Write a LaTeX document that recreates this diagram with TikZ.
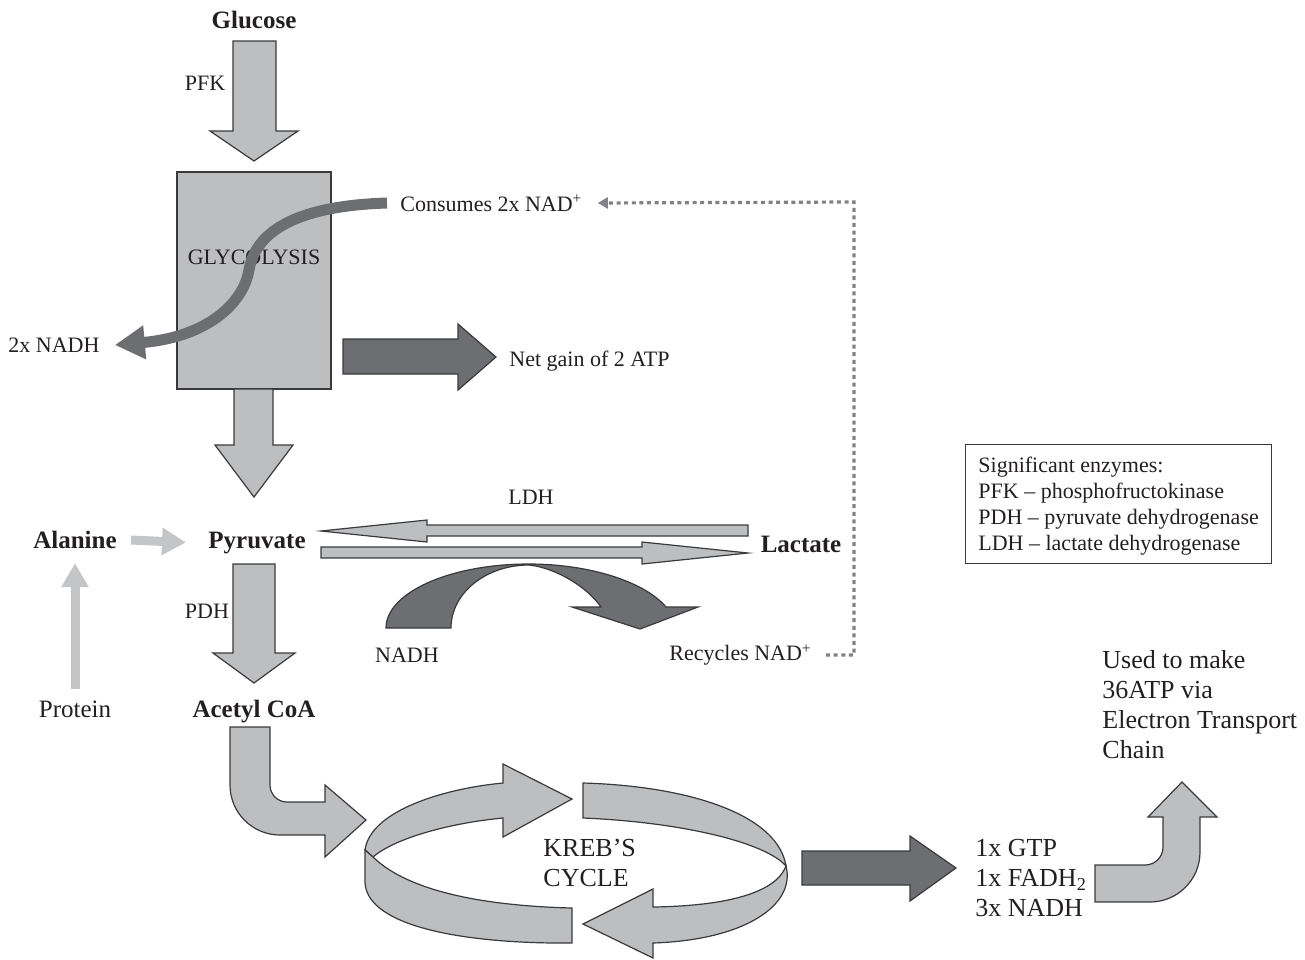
\documentclass[tikz,border=0pt]{standalone}
\usepackage{fontspec}
\setmainfont{Liberation Serif}
\usepackage{tikz}
\usetikzlibrary{positioning, arrows.meta, calc}
\definecolor{lightgrey}{HTML}{BCBEC0}
\definecolor{darkgrey}{HTML}{6D6E71}
\definecolor{edgegrey}{HTML}{3A3A3C}
\definecolor{textgrey}{HTML}{231F20}
\definecolor{palegrey}{HTML}{C4C5C7}
\definecolor{dotgrey}{HTML}{808285}

\begin{document}
\begin{tikzpicture}[
      x=0.5pt, y=-0.5pt,
      every node/.style={text=textgrey, inner sep=0pt},
      lbl/.style={font=\fontsize{11}{13}\selectfont},
      big/.style={font=\fontsize{13}{15}\selectfont, align=left},
      mol/.style={font=\fontsize{12.5}{15}\selectfont\bfseries},
      block/.style={fill=lightgrey, draw=edgegrey, line width=0.6pt},
      darkblock/.style={fill=darkgrey, draw=edgegrey, line width=0.6pt},
      nadcurve/.style={draw=darkgrey, line width=5.5pt, -{Triangle[length=15pt,width=16pt]}},
      thinarrow/.style={draw=palegrey, line width=4.5pt, -{Triangle[length=12pt,width=13pt]}},
      dotline/.style={draw=dotgrey, line width=1.6pt, dash pattern=on 2pt off 1.8pt,
        -{Triangle[length=5pt,width=5.5pt]}},
      ]
      \useasboundingbox (0,0) rectangle (1305,959);

      \node[mol] (glucose) at (254,20) {Glucose};
      \node[lbl] (pfk) at (205,83) {PFK};
      \draw[block] (233,41) -- (276,41) -- (276,131) -- (298,131) -- (254,161)
        -- (210,131) -- (233,131) -- cycle;

      \node[block, minimum width=77pt, minimum height=108.5pt] (glyco) at (254,280.5) {};
      \node[lbl] (glytext) at (254,257) {GLYCOLYSIS};
      \draw[block] (234,389) -- (273,389) -- (273,445) -- (293,445) -- (254,497)
        -- (215,445) -- (234,445) -- cycle;

      \node[lbl, anchor=west] (consumes) at (400,203) {Consumes 2x NAD\textsuperscript{+}};
      \node[lbl, anchor=west] (nadh2) at (8,345) {2x NADH};
      \draw[nadcurve] ([xshift=-6.5pt]consumes.west) .. controls (290,206) and (255,235) .. (249,270)
        .. controls (243,305) and (205,337) .. ([xshift=7.5pt]nadh2.east);

      \draw[darkblock] (343,339) -- (458,339) -- (458,324) -- (496,357) -- (458,390)
        -- (458,374) -- (343,374) -- cycle;
      \node[lbl, anchor=west] (netgain) at (509,361) {Net gain of 2 ATP};

      \node[mol] (alanine) at (75,540) {Alanine};
      \node[mol, anchor=base] (pyruvate) at (257,548) {Pyruvate};
      \node[mol] (lactate) at (801,544) {Lactate};
      \node[lbl] (protein) at (75,709) {\fontsize{12.5}{15}\selectfont Protein};
      \node[mol, anchor=base] (acetyl) at (254,717) {Acetyl CoA};
      \draw[thinarrow] ([xshift=7pt]alanine.east) -- ([xshift=-11pt]pyruvate.west);
      \draw[thinarrow] ([yshift=5.5pt]protein.north) -- ([yshift=-7pt]alanine.south);

      \node[lbl] (ldh) at (531,497) {LDH};
      \draw[block] (748,525) -- (427,525) -- (427,520) -- (321,531) -- (427,542)
        -- (427,536) -- (748,536) -- cycle;
      \draw[block] (321,547) -- (642,547) -- (642,542) -- (748,553) -- (642,564)
        -- (642,558) -- (321,558) -- cycle;
      \draw[darkblock] (386,628) -- (451,628) .. controls (451,593) and (486,565) .. (529,565)
        .. controls (557,568) and (588,588) .. (601,607) -- (572,607) -- (640,629)
        -- (698,607) -- (666,607) .. controls (645,582) and (590,564) .. (529,564)
        .. controls (449,564) and (386,593) .. (386,628) -- cycle;
      \node[lbl] (nadh) at (407,655) {NADH};
      \node[lbl, anchor=west] (recycles) at (669,655) {Recycles NAD\textsuperscript{+}};
      \coordinate (dottop) at (854,202);
      \draw[dotline] ([xshift=7pt]recycles.east) -| (dottop) -- ([xshift=7.5pt]consumes.east);

      \node[lbl] (pdh) at (207,611) {PDH};
      \draw[block] (233,564) -- (275,564) -- (275,653) -- (295,653) -- (254,683)
        -- (213,653) -- (233,653) -- cycle;

      \draw[block] (230,727) -- (230,785) .. controls (230,812.6) and (252.4,835) .. (280,835)
        -- (325,835) -- (325,857) -- (366,820) -- (325,785) -- (325,802) -- (287,802)
        .. controls (277.6,802) and (270,794.4) .. (270,785) -- (270,727) -- cycle;

      \draw[block] (365,850) .. controls (370,812) and (440,789) .. (503,783) -- (503,764)
        -- (572,799) -- (503,837) -- (503,818) .. controls (450,823) and (395,838) .. (373,857)
        -- cycle;
      \draw[block] (365,850) -- (373,857) .. controls (410,893) and (490,906) .. (572,908)
        -- (572,943) .. controls (470,944) and (368,928) .. (365,883) -- cycle;
      \draw[block] (583,783) .. controls (690,786) and (778,815) .. (786,866)
        .. controls (765,842) and (680,822) .. (583,818) -- cycle;
      \draw[block] (786,866) .. controls (775,895) and (720,906) .. (653,907) -- (653,889)
        -- (583,924) -- (653,958) -- (653,943) .. controls (745,940) and (796,905) .. (786,866)
        -- cycle;
      \node[big, anchor=west] (kreb) at (543,863) {KREB'S\\CYCLE};

      \draw[darkblock] (802,851) -- (910,851) -- (910,836) -- (956,868) -- (910,901)
        -- (910,885) -- (802,885) -- cycle;
      \node[big, anchor=west] (products) at (975,878) {1x GTP\\1x FADH\textsubscript{2}\\3x NADH};

      \draw[block] (1095,865) -- (1145,865) .. controls (1155,865) and (1163,857) .. (1163,847)
        -- (1163,817) -- (1148,817) -- (1182,782) -- (1217,817) -- (1200,817) -- (1200,852)
        .. controls (1200,879.6) and (1177.6,902) .. (1150,902) -- (1095,902) -- cycle;
      \node[big, anchor=west] (etc) at (1102,705) {Used to make\\36ATP via\\Electron Transport\\Chain};

      \node[lbl, draw=edgegrey, line width=0.6pt, align=left, anchor=north west,
        minimum width=153pt, minimum height=59.5pt] (enzymes) at (965,444)
        {\rule{0pt}{10pt}Significant enzymes:\\PFK -- phosphofructokinase\\PDH -- pyruvate dehydrogenase\\LDH -- lactate dehydrogenase};
    \end{tikzpicture}
\end{document}
